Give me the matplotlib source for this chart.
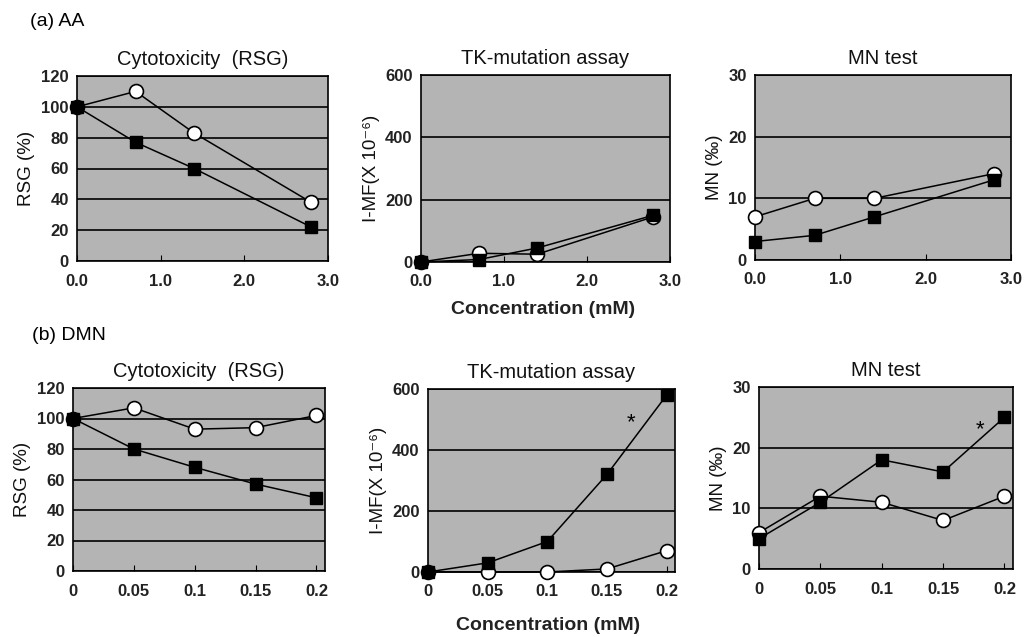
import matplotlib.pyplot as plt
import numpy as np

plt.rcParams['font.family'] = ['Liberation Sans', 'DejaVu Sans']

# (a) AA
aa_conc = [0.0, 0.7, 1.4, 2.8]
aa_rsg_open = [100, 110, 83, 38]
aa_rsg_filled = [100, 77, 60, 22]
aa_tk_open = [0, 28, 25, 145]
aa_tk_filled = [0, 8, 45, 150]
aa_mn_open = [7, 10, 10, 14]
aa_mn_filled = [3, 4, 7, 13]

# (b) DMN
dmn_conc = [0, 0.05, 0.1, 0.15, 0.2]
dmn_rsg_open = [100, 107, 93, 94, 102]
dmn_rsg_filled = [100, 80, 68, 57, 48]
dmn_tk_open = [0, 0, 0, 10, 70]
dmn_tk_filled = [0, 30, 100, 320, 580]
dmn_mn_open = [6, 12, 11, 8, 12]
dmn_mn_filled = [5, 11, 18, 16, 25]

aa_xticks = [0.0, 1.0, 2.0, 3.0]
aa_xlabels = ['0.0', '1.0', '2.0', '3.0']
dmn_xticks = [0, 0.05, 0.1, 0.15, 0.2]
dmn_xlabels = ['0', '0.05', '0.1', '0.15', '0.2']

titles = ['Cytotoxicity  (RSG)', 'TK-mutation assay', 'MN test']
ylabels = ['RSG (%)', 'I-MF(X 10\u207b\u2076)', 'MN (‰)']
yticks = [np.arange(0, 121, 20), np.arange(0, 601, 200), np.arange(0, 31, 10)]

W, H = 1025, 637
fig = plt.figure(figsize=(W / 100, H / 100), dpi=100)

# axes boxes in pixels (left, top, right, bottom)
boxes = [
    [(77, 76, 328, 261), (421, 75, 670, 262), (755, 75, 1011, 260)],
    [(73, 388, 325, 571), (428, 389, 675, 572), (759, 387, 1013, 569)],
]


def px_axes(box):
    l, t, r, b = box
    return fig.add_axes([l / W, 1 - b / H, (r - l) / W, (b - t) / H])


rows = [
    (aa_conc, [(aa_rsg_open, aa_rsg_filled), (aa_tk_open, aa_tk_filled), (aa_mn_open, aa_mn_filled)],
     aa_xticks, aa_xlabels, (0, 3.0)),
    (dmn_conc, [(dmn_rsg_open, dmn_rsg_filled), (dmn_tk_open, dmn_tk_filled), (dmn_mn_open, dmn_mn_filled)],
     dmn_xticks, dmn_xlabels, (0, 0.207)),
]

for r, (conc, series, xt, xl, xlim) in enumerate(rows):
    for c in range(3):
        ax = px_axes(boxes[r][c])
        ax.set_facecolor('#b4b4b4')
        open_y, filled_y = series[c]
        ax.plot(conc, open_y, '-o', color='black', lw=1.1, ms=10,
                mfc='white', mec='black', mew=1.2, zorder=3, clip_on=False)
        ax.plot(conc, filled_y, '-s', color='black', lw=1.1, ms=8,
                mfc='black', mec='black', zorder=4, clip_on=False)
        ax.set_xlim(*xlim)
        ax.set_ylim(yticks[c][0], yticks[c][-1])
        ax.set_yticks(yticks[c])
        ax.set_xticks(xt)
        ax.set_xticklabels(xl)
        ax.yaxis.grid(True, color='black', lw=1.2)
        ax.set_axisbelow(True)
        ax.tick_params(axis='x', direction='in', length=4, pad=9, labelsize=12)
        ax.tick_params(axis='y', length=0, pad=6, labelsize=12)
        for lab in ax.get_xticklabels() + ax.get_yticklabels():
            lab.set_color('#222222')
            lab.set_fontweight('bold')
        for s in ax.spines.values():
            s.set_linewidth(1.2)
        ax.set_title(titles[c], fontsize=14.5, pad=8, color='#111111')
        ax.set_ylabel(ylabels[c], fontsize=13.5, labelpad=4, color='#111111')
        if r == 1 and c == 1:
            ax.text(0.17, 490, '*', fontsize=16, ha='center', va='center')
        if r == 1 and c == 2:
            ax.text(0.18, 23, '*', fontsize=16, ha='center', va='center')

fig.text(30 / W, 1 - 22 / H, '(a) AA', fontsize=14, ha='left', va='center')
fig.text(32 / W, 1 - 335 / H, '(b) DMN', fontsize=14, ha='left', va='center')
fig.text(543 / W, 1 - 309 / H, 'Concentration (mM)', fontsize=14, fontweight='bold',
         ha='center', va='center', color='#222222')
fig.text(548 / W, 1 - 625 / H, 'Concentration (mM)', fontsize=14, fontweight='bold',
         ha='center', va='center', color='#222222')

fig.savefig('out.png', dpi=100, facecolor='white')
